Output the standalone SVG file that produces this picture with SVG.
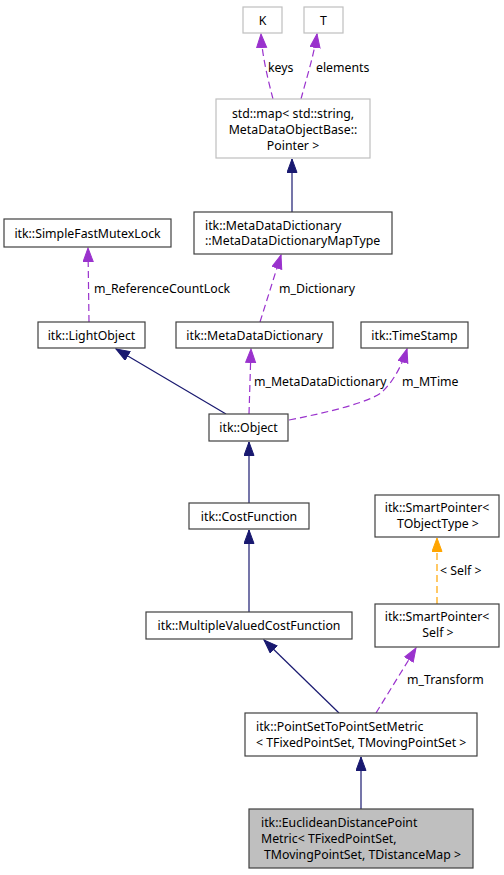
<svg xmlns="http://www.w3.org/2000/svg" width="504" height="875" viewBox="0 0 504 875">
<style>
text{font-family:"Noto Sans","DejaVu Sans",sans-serif;font-size:12.3px;fill:#000}
.n{fill:#fff;stroke:#404040;stroke-width:1.2}
.g{fill:#fff;stroke:#bfbfbf;stroke-width:1.2}
.c{text-anchor:middle}
.inh{fill:none;stroke:#191970;stroke-width:1.2}
.use{fill:none;stroke:#9a32cd;stroke-width:1.2;stroke-dasharray:7,4}
.tpl{fill:none;stroke:#ffa500;stroke-width:1.2;stroke-dasharray:7,4}
</style>
<defs>
<marker id="aN" markerUnits="userSpaceOnUse" markerWidth="15" markerHeight="12" refX="14" refY="5.5" orient="auto"><path d="M0.5,0.5 L14,5.5 L0.5,10.5 z" fill="#191970" stroke="#191970"/></marker>
<marker id="aP" markerUnits="userSpaceOnUse" markerWidth="15" markerHeight="12" refX="14" refY="5.5" orient="auto"><path d="M0.5,0.5 L14,5.5 L0.5,10.5 z" fill="#9a32cd" stroke="#9a32cd"/></marker>
<marker id="aO" markerUnits="userSpaceOnUse" markerWidth="15" markerHeight="12" refX="14" refY="5.5" orient="auto"><path d="M0.5,0.5 L14,5.5 L0.5,10.5 z" fill="#ffa500" stroke="#ffa500"/></marker>
</defs>
<rect width="504" height="875" fill="#fff"/>
<g id="edges">
<path class="use" d="M273,99 C268,80 262,55 261,34" marker-end="url(#aP)"/>
<path class="use" d="M301,99 C306,80 314,55 317,34" marker-end="url(#aP)"/>
<path class="inh" d="M292,212 L292,159" marker-end="url(#aN)"/>
<path class="use" d="M89,322 L88,248" marker-end="url(#aP)"/>
<path class="use" d="M260,322 L281,255" marker-end="url(#aP)"/>
<path class="inh" d="M226,414 L116,349" marker-end="url(#aN)"/>
<path class="use" d="M249,414 L251,349" marker-end="url(#aP)"/>
<path class="use" d="M289,420 C330,412 370,402 382,392 C395,380 403,362 407,349" marker-end="url(#aP)"/>
<path class="inh" d="M249,503 L249,442" marker-end="url(#aN)"/>
<path class="inh" d="M249,612 L249,530" marker-end="url(#aN)"/>
<path class="tpl" d="M437,604 L437,538" marker-end="url(#aO)"/>
<path class="inh" d="M339,713 L264,640" marker-end="url(#aN)"/>
<path class="use" d="M376,713 L416,648" marker-end="url(#aP)"/>
<path class="inh" d="M361,809 L361,757" marker-end="url(#aN)"/>
<text x="268" y="71.5">keys</text>
<text x="316" y="71.5">elements</text>
<text x="94" y="292.5">m_ReferenceCountLock</text>
<text x="279" y="292.5">m_Dictionary</text>
<text x="254" y="385.5">m_MetaDataDictionary</text>
<text x="402" y="385.5">m_MTime</text>
<text x="440" y="574.5">&lt; Self &gt;</text>
<text x="407" y="683.5">m_Transform</text>
</g>
<g id="K"><rect class="g" x="243" y="7" width="39" height="26"/><text class="c" x="262.5" y="24.5">K</text></g>
<g id="T"><rect class="g" x="304" y="7" width="39" height="26"/><text class="c" x="323.5" y="24.5">T</text></g>
<g id="stdmap"><rect class="g" x="216" y="99" width="154" height="59"/>
<text class="c" x="293" y="117.5">std::map&lt; std::string,</text>
<text class="c" x="293" y="133.5">MetaDataObjectBase::</text>
<text class="c" x="293" y="149.5">Pointer &gt;</text></g>
<g id="MapType"><rect class="n" x="194" y="212" width="198" height="42"/>
<text x="205" y="229.5">itk::MetaDataDictionary</text>
<text x="205" y="245">::MetaDataDictionaryMapType</text></g>
<g id="SimpleFastMutexLock"><rect class="n" x="4" y="219" width="167" height="28"/><text class="c" x="87.5" y="237.5">itk::SimpleFastMutexLock</text></g>
<g id="LightObject"><rect class="n" x="38" y="322" width="107" height="26"/><text class="c" x="91.5" y="339.5">itk::LightObject</text></g>
<g id="MetaDataDictionary"><rect class="n" x="176" y="322" width="157" height="26"/><text class="c" x="254.5" y="339.5">itk::MetaDataDictionary</text></g>
<g id="TimeStamp"><rect class="n" x="361" y="322" width="107" height="26"/><text class="c" x="414.5" y="339.5">itk::TimeStamp</text></g>
<g id="Object"><rect class="n" x="209" y="414" width="79" height="27"/><text class="c" x="248.5" y="432">itk::Object</text></g>
<g id="CostFunction"><rect class="n" x="189" y="503" width="120" height="26"/><text class="c" x="249" y="520.5">itk::CostFunction</text></g>
<g id="SmartPointerTObjectType"><rect class="n" x="375" y="495" width="124" height="42"/>
<text class="c" x="437" y="511.5">itk::SmartPointer&lt;</text>
<text class="c" x="438" y="527.5">TObjectType &gt;</text></g>
<g id="MultipleValuedCostFunction"><rect class="n" x="146" y="612" width="206" height="27"/><text class="c" x="249" y="629.5">itk::MultipleValuedCostFunction</text></g>
<g id="SmartPointerSelf"><rect class="n" x="375" y="604" width="124" height="43"/>
<text class="c" x="437" y="621">itk::SmartPointer&lt;</text>
<text class="c" x="438" y="637">Self &gt;</text></g>
<g id="PointSetToPointSetMetric"><rect class="n" x="245" y="713" width="232" height="43"/>
<text x="256" y="730.5">itk::PointSetToPointSetMetric</text>
<text x="256" y="747">&lt; TFixedPointSet, TMovingPointSet &gt;</text></g>
<g id="EuclideanDistancePointMetric"><rect x="249" y="809" width="224" height="59" fill="#bfbfbf" stroke="#404040" stroke-width="1.2"/>
<text x="261" y="826.5">itk::EuclideanDistancePoint</text>
<text x="261" y="842.5">Metric&lt; TFixedPointSet,</text>
<text x="264" y="858.5">TMovingPointSet, TDistanceMap &gt;</text></g>
</svg>
